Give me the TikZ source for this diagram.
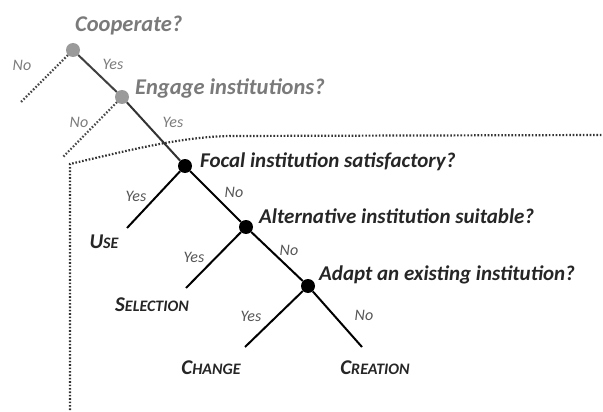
\documentclass[tikz,border=0pt]{standalone}
\usepackage{fontspec}
\setmainfont{Carlito}
\usetikzlibrary{positioning}
\definecolor{upgray}{HTML}{7A7A7A}
\definecolor{dotgray}{HTML}{9A9A9A}
\definecolor{ansgray}{HTML}{555555}
\newcommand{\smc}[1]{{\fontsize{16}{16}\selectfont #1}}
\begin{document}
\begin{tikzpicture}[x=1pt,y=-1pt]
	\tikzstyle{every node}=[font=\bfseries\itshape\fontsize{21}{21}\selectfont, inner sep=0pt]
	\tikzstyle{dot}=[circle, minimum size=14pt, draw=none]
	\tikzstyle{ans}=[font=\itshape\fontsize{16}{16}\selectfont, text=ansgray]
	\tikzstyle{branch}=[line width=2pt]
	\tikzstyle{outside}=[line width=2.2pt, dash pattern=on 1.6pt off 1.8pt, color=black!80]
	
	\useasboundingbox (0,0) rectangle (603,412);
	
	% boundary of the institutional choice
	\draw [outside] (70,410) -- (70,164) .. controls (130,150) and (180,137) .. (230,136) -- (603,135);
	
	% first two questions
	\node [dot, fill=dotgray] (coop) at (73,50) {};
	\node [dot, fill=dotgray] (engage) at (122,97) {};
	\node [anchor=west, text=upgray, font=\bfseries\itshape\fontsize{22.5}{22}\selectfont] (coopq) at (75,26) {Cooperate?};
	\node [anchor=west, text=upgray, font=\bfseries\itshape\fontsize{22.5}{22}\selectfont] (engageq) at (135,88) {Engage institutions?};
	\coordinate (coopno) at (21,102);
	\coordinate (engageno) at (63,157);
	
	% institutional choices
	\node [dot, fill=black] (focal) at (185,166) {};
	\node [dot, fill=black] (alt) at (246,227) {};
	\node [dot, fill=black] (adapt) at (308,286) {};
	\node [anchor=west, text=black!85] (focalq) at (200,162) {Focal institution satisfactory?};
	\node [anchor=west, text=black!85] (altq) at (259,216) {Alternative institution suitable?};
	\node [anchor=west, text=black!85] (adaptq) at (319,275) {Adapt an existing institution?};
	
	\coordinate (useend) at (127,228);
	\coordinate (selend) at (186,288);
	\coordinate (chgend) at (245,347);
	\coordinate (creend) at (362,347);
	
	\draw [outside, color=black!70] (coop) -- (coopno);
	\draw [outside, color=black!70] (engage) -- (engageno);
	\draw [branch, color=black!75] (coop) -- (engage);
	\draw [branch, color=black!80] (engage) -- (focal);
	\draw [branch] (focal) -- (useend);
	\draw [branch] (focal) -- (alt);
	\draw [branch] (alt) -- (selend);
	\draw [branch] (alt) -- (adapt);
	\draw [branch] (adapt) -- (chgend);
	\draw [branch] (adapt) -- (creend);
	
	% yes / no
	\node [ans, text=dotgray!80!black] (no1) at (22,65) {No};
	\node [ans, text=dotgray!80!black] (yes1) at (113,64) {Yes};
	\node [ans, text=dotgray!80!black] (no2) at (79,122) {No};
	\node [ans, text=dotgray!80!black] (yes2) at (173,122) {Yes};
	\node [ans] (yes3) at (136,196) {Yes};
	\node [ans] (no3) at (234,192) {No};
	\node [ans] (yes4) at (194,257) {Yes};
	\node [ans] (no4) at (289,250) {No};
	\node [ans] (yes5) at (251,316) {Yes};
	\node [ans] (no5) at (364,315) {No};
	
	% outcomes
	\node [text=black!85] (use) at (104,242) {U\smc{SE}};
	\node [text=black!85] (sel) at (152,305) {S\smc{ELECTION}};
	\node [text=black!85] (chg) at (211,368) {C\smc{HANGE}};
	\node [text=black!85] (cre) at (375,368) {C\smc{REATION}};
	
\end{tikzpicture}
\end{document}
